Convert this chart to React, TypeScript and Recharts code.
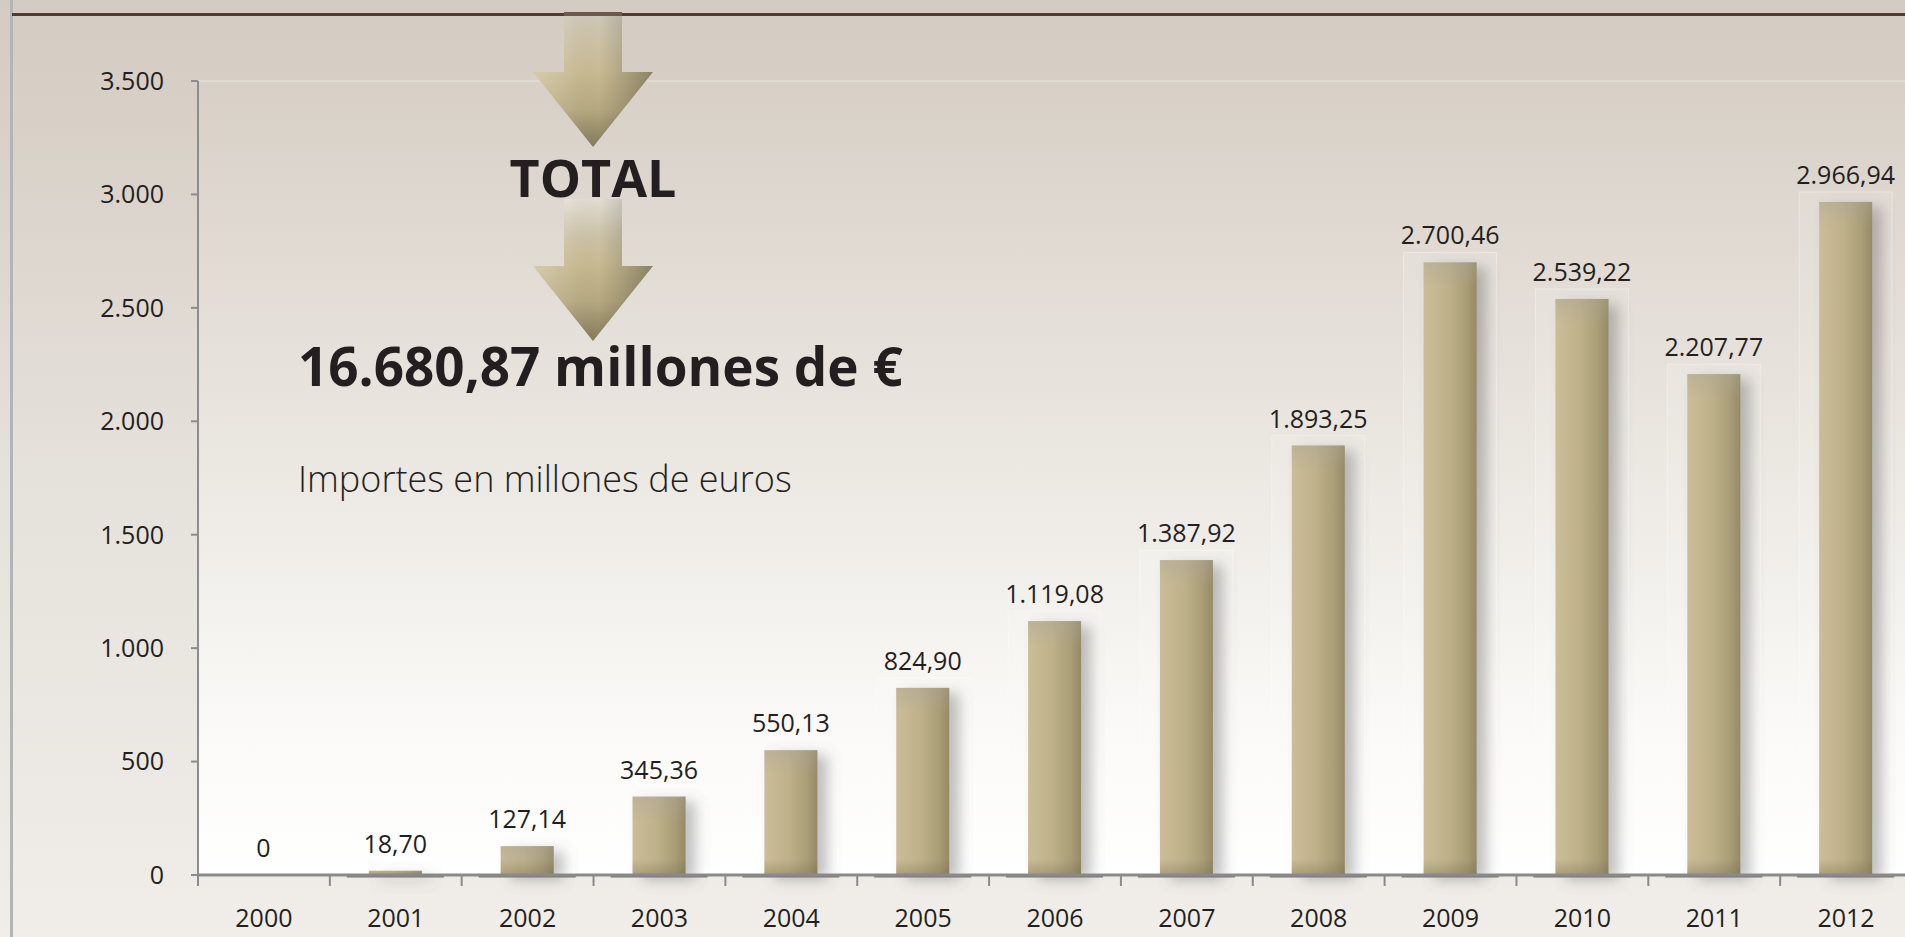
import React from "react";
import { BarChart, Bar, XAxis, YAxis, CartesianGrid, LabelList, ReferenceLine } from "recharts";

// Importes anuales (millones de euros)
const YEARS = ["2000", "2001", "2002", "2003", "2004", "2005", "2006", "2007", "2008", "2009", "2010", "2011", "2012"];
const AMOUNTS = [0, 18.7, 127.14, 345.36, 550.13, 824.9, 1119.08, 1387.92, 1893.25, 2700.46, 2539.22, 2207.77, 2966.94];
const Y_TICKS = [0, 500, 1000, 1500, 2000, 2500, 3000, 3500];
const TITLE = "TOTAL";
const UNITS_NOTE = "Importes en millones de euros";

const FONT = "'Open Sans', 'Noto Sans', sans-serif";
const INK = "#231f20";

const data = YEARS.map((year, i) => ({ year, value: AMOUNTS[i] }));
const total = AMOUNTS.reduce((a, b) => a + b, 0);

// formato español: 1.234,56
function fmtEs(v: number, decimals: number): string {
  const [int, dec] = v.toFixed(decimals).split(".");
  const grouped = int.replace(/\B(?=(\d{3})+(?!\d))/g, ".");
  return dec ? `${grouped},${dec}` : grouped;
}

function KhakiBar(props: any) {
  const { x, y, width, height } = props;
  if (!height || height <= 0) return null;
  const topH = Math.min(26, height);
  const botH = Math.min(16, height);
  return (
    <g>
      <rect x={x - 20} y={y - 10} width={width + 40} height={height + 10} fill="#ffffff" fillOpacity={0.12} stroke="#ffffff" strokeOpacity={0.35} />
      <rect x={x} y={y} width={width} height={height} fill="url(#barH)" filter="url(#barShadow)" />
      <rect x={x} y={y} width={width} height={topH} fill="url(#barTop)" />
      <rect x={x} y={y + height - botH} width={width} height={botH} fill="url(#barBottom)" />
      <line x1={x - 22} x2={x + width + 22} y1={y + height + 1} y2={y + height + 1} stroke="#787878" strokeWidth={3} />
    </g>
  );
}

function YearTick(props: any) {
  const { x, y, payload } = props;
  const half = payload && payload.offset ? payload.offset : 66;
  return (
    <g>
      <line x1={x - half} x2={x - half} y1={y} y2={y + 11} stroke="#8a8a8a" strokeWidth={2} />
      <text x={x} y={y + 52} textAnchor="middle" fontSize={25} fontFamily={FONT} fill={INK}>
        {payload.value}
      </text>
    </g>
  );
}

function Arrow({ top, dy, id }: { top: number; dy: number; id: string }) {
  const pts = [
    [564, top], [622, top], [622, 72], [653, 72], [593, 147], [533, 72], [564, 72],
  ].map(([px, py]) => `${px},${py + dy}`).join(" ");
  return (
    <g>
      <polygon points={pts} fill={`url(#${id}V)`} />
      <polygon points={pts} fill="url(#arrowH)" />
    </g>
  );
}

export default function App() {
  return (
    <div
      style={{
        position: "relative",
        width: 1905,
        height: 937,
        overflow: "hidden",
        background: "linear-gradient(to bottom, #d4ccc2 0%, #d8d0c7 12%, #e5e1db 50%, #eeebe6 90%, #f1eee9 100%)",
        fontFamily: FONT,
      }}
    >
      <style>{`body{margin:0;overflow:hidden}`}</style>
      <div style={{ position: "absolute", left: 10, top: 0, width: 3, height: 937, background: "#b2b5b5" }} />
      <div style={{ position: "absolute", left: 12, top: 13, width: 1893, height: 3, background: "#4f3b30" }} />

      <div style={{ position: "absolute", left: 0, top: 0 }}>
        <BarChart width={1912} height={937} data={data} margin={{ top: 81, right: 0, bottom: 0, left: 0 }}>
          <defs>
            <linearGradient id="plotBg" x1="0" y1="0" x2="0" y2="1">
              <stop offset="0" stopColor="#d8d0c7" />
              <stop offset="0.45" stopColor="#eae6e0" />
              <stop offset="0.8" stopColor="#faf9f7" />
              <stop offset="1" stopColor="#ffffff" />
            </linearGradient>
            <linearGradient id="barH" x1="0" y1="0" x2="1" y2="0">
              <stop offset="0" stopColor="#cbbd97" />
              <stop offset="0.45" stopColor="#bfb28b" />
              <stop offset="0.8" stopColor="#aa9e77" />
              <stop offset="1" stopColor="#958a66" />
            </linearGradient>
            <linearGradient id="barTop" x1="0" y1="0" x2="0" y2="1">
              <stop offset="0" stopColor="#a8a49a" stopOpacity={0.4} />
              <stop offset="1" stopColor="#a8a49a" stopOpacity={0} />
            </linearGradient>
            <linearGradient id="barBottom" x1="0" y1="0" x2="0" y2="1">
              <stop offset="0" stopColor="#6e6448" stopOpacity={0} />
              <stop offset="1" stopColor="#6e6448" stopOpacity={0.35} />
            </linearGradient>
            <filter id="barShadow" filterUnits="userSpaceOnUse" x="0" y="0" width="1912" height="937">
              <feDropShadow dx="10" dy="5" stdDeviation="7" floodColor="#5f5f5f" floodOpacity="0.4" />
            </filter>
          </defs>
          <CartesianGrid horizontal={false} vertical={false} fill="url(#plotBg)" />
          <ReferenceLine y={3500} stroke="#ffffff" strokeOpacity={0.5} />
          <XAxis
            dataKey="year"
            height={62}
            interval={0}
            tickSize={0}
            tickMargin={0}
            tickLine={false}
            axisLine={{ stroke: "#8a8a8a", strokeWidth: 3 }}
            tick={<YearTick />}
          />
          <YAxis
            domain={[0, 3500]}
            ticks={Y_TICKS}
            interval={0}
            width={198}
            tickSize={7}
            tickMargin={27}
            axisLine={{ stroke: "#8c8c8c", strokeWidth: 2 }}
            tickLine={{ stroke: "#8c8c8c", strokeWidth: 2 }}
            tick={{ fill: INK, fontSize: 25, fontFamily: FONT }}
            tickFormatter={(v: number) => fmtEs(v, 0)}
          />
          <Bar dataKey="value" barSize={53} shape={<KhakiBar />} isAnimationActive={false}>
            <LabelList
              dataKey="value"
              position="top"
              offset={18}
              fill={INK}
              fontSize={25}
              fontFamily={FONT}
              formatter={(v: any) => (Number(v) === 0 ? "0" : fmtEs(Number(v), 2))}
            />
          </Bar>
        </BarChart>
      </div>

      <svg width={1905} height={937} style={{ position: "absolute", left: 0, top: 0, pointerEvents: "none" }}>
        <defs>
          <linearGradient id="arrow1V" x1="0" y1="0" x2="0" y2="1">
            <stop offset="0" stopColor="#cfc7ba" />
            <stop offset="0.2" stopColor="#ccc2a7" />
            <stop offset="0.44" stopColor="#c8ba92" />
            <stop offset="0.72" stopColor="#b6a981" />
            <stop offset="1" stopColor="#847a59" />
          </linearGradient>
          <linearGradient id="arrow2V" x1="0" y1="0" x2="0" y2="1">
            <stop offset="0" stopColor="#e2ddd5" />
            <stop offset="0.25" stopColor="#cdc3a8" />
            <stop offset="0.45" stopColor="#c8ba92" />
            <stop offset="0.72" stopColor="#b6a981" />
            <stop offset="1" stopColor="#847a59" />
          </linearGradient>
          <linearGradient id="arrowH" x1="0" y1="0" x2="1" y2="0">
            <stop offset="0" stopColor="#ffffff" stopOpacity={0.25} />
            <stop offset="0.3" stopColor="#ffffff" stopOpacity={0.05} />
            <stop offset="0.55" stopColor="#000000" stopOpacity={0} />
            <stop offset="0.75" stopColor="#000000" stopOpacity={0.12} />
            <stop offset="1" stopColor="#000000" stopOpacity={0.3} />
          </linearGradient>
        </defs>
        <Arrow top={13} dy={0} id="arrow1" />
        <rect x={564} y={12} width={58} height={4} fill="#6b5a4c" />
        <Arrow top={5} dy={194} id="arrow2" />
        <text x={593} y={197} textAnchor="middle" fontSize={52} fontWeight={700} fill={INK} fontFamily={FONT}>
          {TITLE}
        </text>
        <text x={298} y={386} fontSize={53} fontWeight={700} fill={INK} fontFamily={FONT}>
          {`${fmtEs(total, 2)} millones de €`}
        </text>
        <text x={298} y={492} fontSize={36} fontWeight={300} fill={INK} fontFamily={FONT}>
          {UNITS_NOTE}
        </text>
      </svg>
    </div>
  );
}
